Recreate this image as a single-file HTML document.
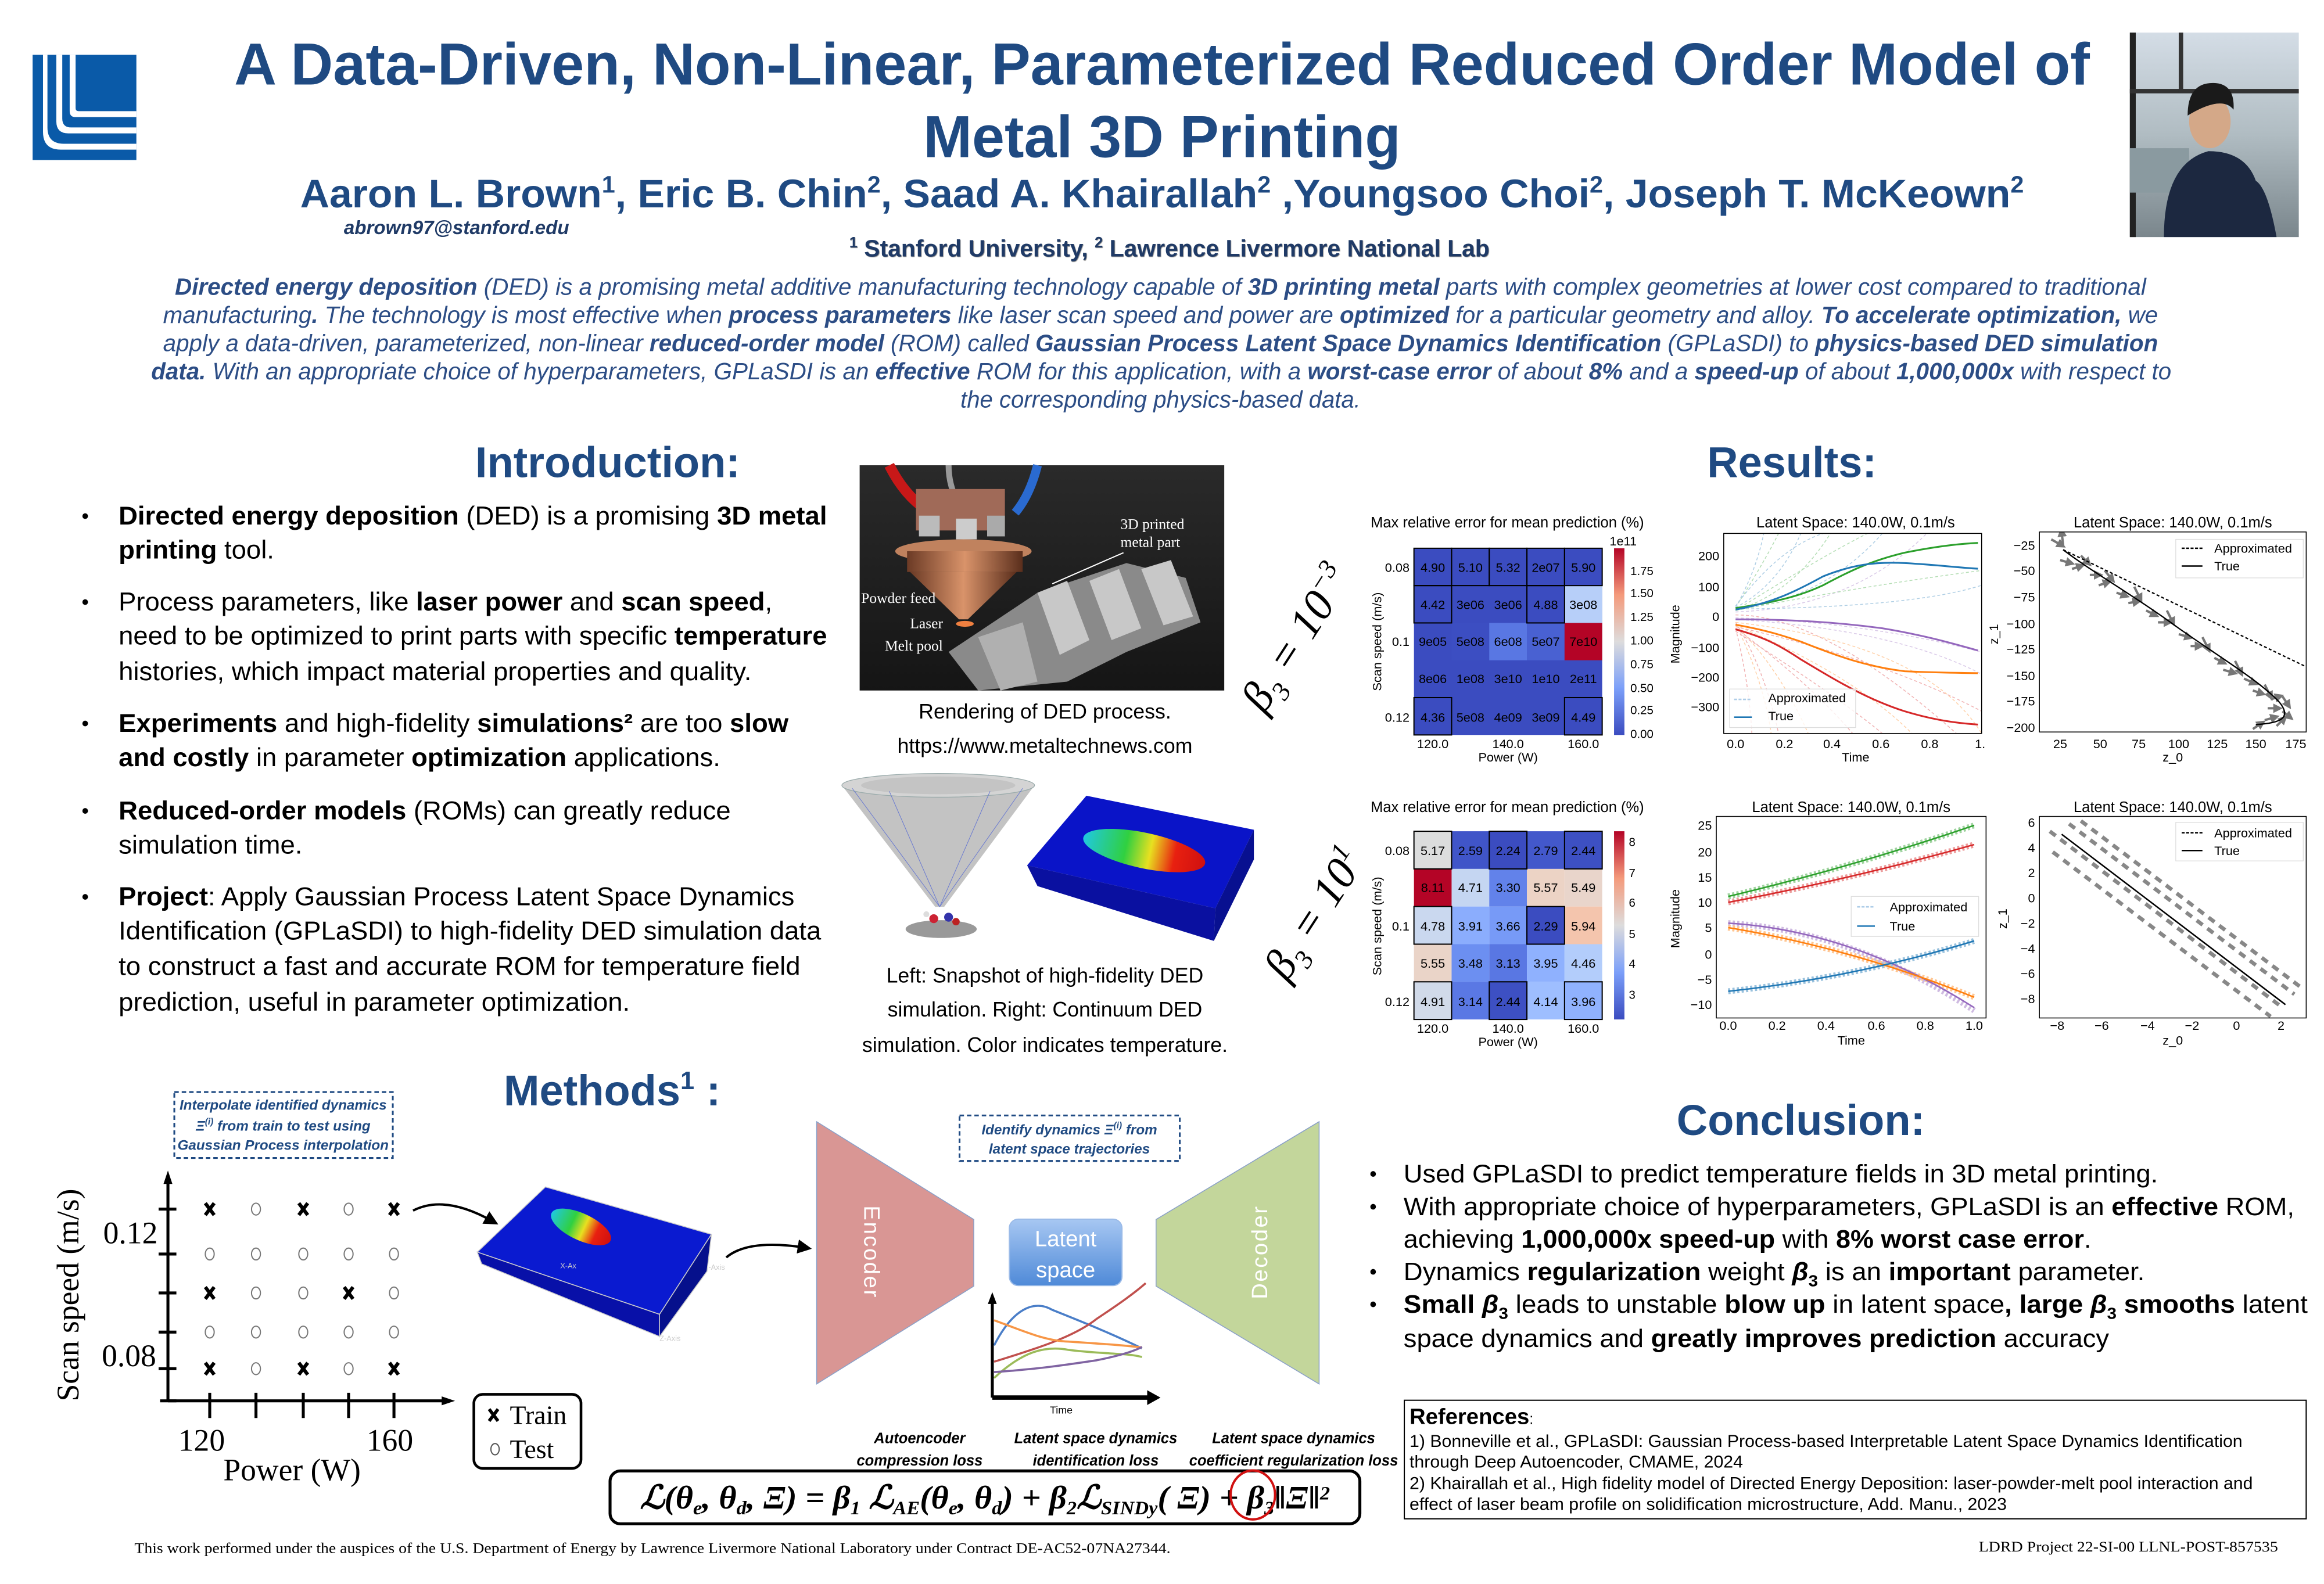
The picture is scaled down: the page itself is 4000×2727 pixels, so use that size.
<!DOCTYPE html>
<html><head><meta charset="utf-8"><style>
html,body{margin:0;padding:0;background:#fff;}
svg{display:block;}
</style></head><body>
<svg xmlns="http://www.w3.org/2000/svg" width="4000" height="2727" viewBox="0 0 1568 1069" font-family="'Liberation Sans', sans-serif">
<defs>
<linearGradient id="cw" x1="0" y1="1" x2="0" y2="0">
<stop offset="0" stop-color="#3b4cc0"/><stop offset="0.25" stop-color="#7b9ff9"/><stop offset="0.5" stop-color="#dddcdc"/><stop offset="0.75" stop-color="#f49a7b"/><stop offset="1" stop-color="#b40426"/></linearGradient>
<linearGradient id="hot" x1="0" y1="0" x2="1" y2="0">
<stop offset="0" stop-color="#20c8e0"/><stop offset="0.35" stop-color="#30d040"/><stop offset="0.55" stop-color="#e8e020"/><stop offset="0.75" stop-color="#e82010"/><stop offset="1" stop-color="#d01010"/></linearGradient>
<linearGradient id="lat" x1="0" y1="0" x2="0" y2="1"><stop offset="0" stop-color="#a7c7f2"/><stop offset="1" stop-color="#4f8ad8"/></linearGradient>
<linearGradient id="dark" x1="0" y1="0" x2="0" y2="1"><stop offset="0" stop-color="#2a2a2a"/><stop offset="1" stop-color="#151515"/></linearGradient>
<linearGradient id="copper" x1="0" y1="0" x2="1" y2="0"><stop offset="0" stop-color="#6b3a25"/><stop offset="0.5" stop-color="#d9936a"/><stop offset="1" stop-color="#5a2e1c"/></linearGradient>
<linearGradient id="photo" x1="0" y1="0" x2="0" y2="1"><stop offset="0" stop-color="#d4dde6"/><stop offset="0.5" stop-color="#b0bcc2"/><stop offset="1" stop-color="#7a868c"/></linearGradient>
<marker id="ah" markerWidth="4" markerHeight="4" refX="2" refY="2" orient="auto"><path d="M0,0 L4,2 L0,4z" fill="#777"/></marker>
<marker id="ahk" markerWidth="6" markerHeight="6" refX="3" refY="3" orient="auto"><path d="M0,0 L6,3 L0,6z" fill="#000"/></marker>
<clipPath id="c1"><rect x="1163" y="360" width="174" height="135"/></clipPath>
<clipPath id="c3"><rect x="1376" y="359" width="180" height="135"/></clipPath>
</defs>

<!-- LOGO -->
<rect x="22" y="37" width="70" height="71" fill="#0a5aa8"/>
<path d="M24,37 h5 v52 q0,12 12,12 h51 v-4 h-49 q-11,0 -11,-11 v-49z" fill="#fff"/>
<path d="M33,37 h5 v45 q0,8 8,8 h46 v-4 h-44 q-6,0 -6,-6 v-43z" fill="#fff"/>
<path d="M42,37 h5 v38 q0,4 4,4 h41 v-4 h-39 q-2,0 -2,-2 v-36z" fill="#fff"/>

<!-- PHOTO -->
<rect x="1437" y="22" width="114" height="138" fill="url(#photo)"/>
<rect x="1437" y="22" width="4" height="138" fill="#222"/>
<rect x="1437" y="60" width="114" height="3" fill="#333"/>
<rect x="1470" y="22" width="3" height="40" fill="#333"/>
<rect x="1437" y="100" width="40" height="30" fill="#8a9aa0"/>
<path d="M1460,160 q0,-50 30,-58 q25,0 32,20 q8,5 14,38z" fill="#1c2840"/>
<ellipse cx="1491" cy="82" rx="14" ry="18" fill="#d4a888"/>
<path d="M1476,78 q0,-22 17,-22 q15,0 14,18 q-8,-10 -31,4z" fill="#1a1a1a"/>

<!-- TITLE -->
<g fill="#1f4a82" font-weight="bold">
<text x="784" y="57" font-size="40" text-anchor="middle" textLength="1252" lengthAdjust="spacingAndGlyphs">A Data-Driven, Non-Linear, Parameterized Reduced Order Model of</text>
<text x="784" y="106" font-size="40" text-anchor="middle" textLength="322" lengthAdjust="spacingAndGlyphs">Metal 3D Printing</text>
<text x="784" y="140" font-size="27" text-anchor="middle" textLength="1163" lengthAdjust="spacingAndGlyphs">Aaron L. Brown<tspan font-size="16" dy="-10">1</tspan><tspan dy="10">, Eric B. Chin</tspan><tspan font-size="16" dy="-10">2</tspan><tspan dy="10">, Saad A. Khairallah</tspan><tspan font-size="16" dy="-10">2</tspan><tspan dy="10"> ,Youngsoo Choi</tspan><tspan font-size="16" dy="-10">2</tspan><tspan dy="10">, Joseph T. McKeown</tspan><tspan font-size="16" dy="-10">2</tspan></text>
</g>
<text x="232" y="158" font-size="13" font-style="italic" font-weight="bold" fill="#1f3a66" textLength="152" lengthAdjust="spacingAndGlyphs">abrown97@stanford.edu</text>
<text x="789" y="173" font-size="16" font-weight="bold" fill="#1f3a66" text-anchor="middle" textLength="432" lengthAdjust="spacingAndGlyphs" style="text-shadow:1px 1px 1px #888"><tspan font-size="10" dy="-6">1</tspan><tspan dy="6"> Stanford University, </tspan><tspan font-size="10" dy="-6">2</tspan><tspan dy="6"> Lawrence Livermore National Lab</tspan></text>

<!-- ABSTRACT -->
<g font-size="16" font-style="italic" fill="#2c4d85">
<text x="118" y="199" textLength="1330" lengthAdjust="spacingAndGlyphs"><tspan font-weight="bold">Directed energy deposition</tspan> (DED) is a promising metal additive manufacturing technology capable of <tspan font-weight="bold">3D printing metal</tspan> parts with complex geometries at lower cost compared to traditional</text>
<text x="110" y="218" textLength="1346" lengthAdjust="spacingAndGlyphs">manufacturing<tspan font-weight="bold">.</tspan> The technology is most effective when <tspan font-weight="bold">process parameters</tspan> like laser scan speed and power are <tspan font-weight="bold">optimized</tspan> for a particular geometry and alloy. <tspan font-weight="bold">To accelerate optimization,</tspan> we</text>
<text x="110" y="237" textLength="1346" lengthAdjust="spacingAndGlyphs">apply a data-driven, parameterized, non-linear <tspan font-weight="bold">reduced-order model</tspan> (ROM) called <tspan font-weight="bold">Gaussian Process Latent Space Dynamics Identification</tspan> (GPLaSDI) to <tspan font-weight="bold">physics-based DED simulation</tspan></text>
<text x="102" y="256" textLength="1363" lengthAdjust="spacingAndGlyphs"><tspan font-weight="bold">data.</tspan> With an appropriate choice of hyperparameters, GPLaSDI is an <tspan font-weight="bold">effective</tspan> ROM for this application, with a <tspan font-weight="bold">worst-case error</tspan> of about <tspan font-weight="bold">8%</tspan> and a <tspan font-weight="bold">speed-up</tspan> of about <tspan font-weight="bold">1,000,000x</tspan> with respect to</text>
<text x="648" y="275" textLength="270" lengthAdjust="spacingAndGlyphs">the corresponding physics-based data.</text>
</g>

<!-- SECTION HEADINGS -->
<g fill="#1f4a82" font-weight="bold" font-size="29" text-anchor="middle">
<text x="410" y="322">Introduction:</text>
<text x="1209" y="322">Results:</text>
<text x="1215" y="766">Conclusion:</text>
<text x="413" y="746">Methods<tspan font-size="17" dy="-11">1</tspan><tspan dy="11"> :</tspan></text>
</g>

<!-- INTRO BULLETS -->
<g font-size="17.5" fill="#000">
<g font-size="14"><text x="55" y="353">•</text><text x="55" y="411">•</text><text x="55" y="493">•</text><text x="55" y="552">•</text><text x="55" y="610">•</text></g>
<text x="80" y="354" textLength="478" lengthAdjust="spacingAndGlyphs"><tspan font-weight="bold">Directed energy deposition</tspan> (DED) is a promising <tspan font-weight="bold">3D metal</tspan></text>
<text x="80" y="377" textLength="105" lengthAdjust="spacingAndGlyphs"><tspan font-weight="bold">printing</tspan> tool.</text>
<text x="80" y="412" textLength="441" lengthAdjust="spacingAndGlyphs">Process parameters, like <tspan font-weight="bold">laser power</tspan> and <tspan font-weight="bold">scan speed</tspan>,</text>
<text x="80" y="435" textLength="478" lengthAdjust="spacingAndGlyphs">need to be optimized to print parts with specific <tspan font-weight="bold">temperature</tspan></text>
<text x="80" y="459" textLength="427" lengthAdjust="spacingAndGlyphs">histories, which impact material properties and quality.</text>
<text x="80" y="494" textLength="452" lengthAdjust="spacingAndGlyphs"><tspan font-weight="bold">Experiments</tspan> and high-fidelity <tspan font-weight="bold">simulations²</tspan> are too <tspan font-weight="bold">slow</tspan></text>
<text x="80" y="517" textLength="406" lengthAdjust="spacingAndGlyphs"><tspan font-weight="bold">and costly</tspan> in parameter <tspan font-weight="bold">optimization</tspan> applications.</text>
<text x="80" y="553" textLength="413" lengthAdjust="spacingAndGlyphs"><tspan font-weight="bold">Reduced-order models</tspan> (ROMs) can greatly reduce</text>
<text x="80" y="576" textLength="124" lengthAdjust="spacingAndGlyphs">simulation time.</text>
<text x="80" y="611" textLength="456" lengthAdjust="spacingAndGlyphs"><tspan font-weight="bold">Project</tspan>: Apply Gaussian Process Latent Space Dynamics</text>
<text x="80" y="634" textLength="474" lengthAdjust="spacingAndGlyphs">Identification (GPLaSDI) to high-fidelity DED simulation data</text>
<text x="80" y="658" textLength="460" lengthAdjust="spacingAndGlyphs">to construct a fast and accurate ROM for temperature field</text>
<text x="80" y="682" textLength="345" lengthAdjust="spacingAndGlyphs">prediction, useful in parameter optimization.</text>
</g>

<!-- DED RENDER IMAGE -->
<rect x="580" y="314" width="246" height="152" fill="url(#dark)"/>
<path d="M600,314 q10,20 25,30" stroke="#c81818" stroke-width="7" fill="none"/>
<path d="M700,314 q-5,20 -15,32" stroke="#2a6ad0" stroke-width="6" fill="none"/>
<path d="M640,314 q0,15 8,28" stroke="#999" stroke-width="4" fill="none"/>
<rect x="618" y="330" width="60" height="28" fill="#a06a58"/>
<rect x="620" y="348" width="14" height="14" fill="#bbb"/><rect x="645" y="350" width="14" height="14" fill="#ccc"/><rect x="666" y="348" width="12" height="14" fill="#aaa"/>
<ellipse cx="650" cy="372" rx="46" ry="8" fill="#c0825e"/>
<rect x="612" y="372" width="78" height="14" fill="url(#copper)"/>
<path d="M614,386 L686,386 L653,418 L647,418z" fill="url(#copper)"/>
<path d="M640,440 L700,400 L760,380 L800,390 L810,420 L760,440 L720,460 L660,466z" fill="#8a8a8a"/>
<path d="M700,400 l20,-8 l15,40 l-20,10z M735,392 l20,-8 l15,40 l-20,8z M770,384 l20,-6 l15,38 l-20,6z" fill="#c8c8c8"/>
<path d="M660,430 l30,-10 l10,40 l-25,6z" fill="#b0b0b0"/>
<ellipse cx="651" cy="421" rx="6" ry="2" fill="#f08040"/>
<g fill="#fff" font-family="'Liberation Serif', serif" font-size="10">
<text x="756" y="357">3D printed</text><text x="756" y="369">metal part</text>
<text x="581" y="407">Powder feed</text><text x="614" y="424">Laser</text><text x="597" y="439">Melt pool</text></g>
<path d="M710,394 L758,373" stroke="#fff" stroke-width="0.8"/>
<g fill="#000" font-size="14" text-anchor="middle">
<text x="705" y="485">Rendering of DED process.</text>
<text x="705" y="508">https://www.metaltechnews.com</text>
<text x="705" y="663">Left: Snapshot of high-fidelity DED</text>
<text x="705" y="686">simulation. Right: Continuum DED</text>
<text x="705" y="710">simulation. Color indicates temperature.</text>
</g>
<!-- cone -->
<path d="M568,530 L698,530 L637,612 L631,612z" fill="#b8b8b8" opacity="0.85"/>
<ellipse cx="633" cy="530" rx="65" ry="8" fill="#d4d4d4" stroke="#9aa" stroke-width="0.5"/>
<ellipse cx="633" cy="530" rx="52" ry="6" fill="#c4c4c4"/>
<path d="M575,532 L634,612 M690,532 L634,612 M600,534 L634,612 M668,534 L634,612" stroke="#6a7ad0" stroke-width="0.4"/>
<ellipse cx="635" cy="627" rx="24" ry="6" fill="#999"/>
<circle cx="630" cy="620" r="3" fill="#c23"/><circle cx="640" cy="619" r="3" fill="#33a"/><circle cx="625" cy="617" r="2" fill="#ddd"/><circle cx="645" cy="622" r="2.5" fill="#b22"/>
<!-- continuum block -->
<path d="M733,537 L846,560 L820,613 L693,584z" fill="#0a14c8"/>
<path d="M693,584 L820,613 L819,635 L700,598z" fill="#0a10a0"/>
<path d="M820,613 L846,560 L846,580 L819,635z" fill="#081090"/>
<ellipse cx="772" cy="574" rx="42" ry="12" transform="rotate(12 772 574)" fill="url(#hot)"/>

<!-- BETA LABELS -->
<g font-family="'Liberation Serif', serif" font-style="italic" font-size="30" fill="#000">
<text transform="translate(883,436) rotate(-57)" text-anchor="middle">β<tspan font-size="18" dy="7">3</tspan><tspan dy="-7"> = 10</tspan><tspan font-size="18" dy="-12">−3</tspan></text>
<text transform="translate(895,622) rotate(-57)" text-anchor="middle">β<tspan font-size="18" dy="7">3</tspan><tspan dy="-7"> = 10</tspan><tspan font-size="18" dy="-12">1</tspan></text>
</g>

<!-- HEATMAP 1 -->
<g font-size="9" fill="#000">
<text x="1017" y="356" text-anchor="middle" font-size="10">Max relative error for mean prediction (%)</text>
<rect x="954" y="370" width="127" height="126" fill="#3b4cc0"/>
<rect x="1055.6" y="395.2" width="25.4" height="25.2" fill="#b7cff9"/>
<rect x="979.4" y="420.4" width="25.4" height="25.2" fill="#3c4ec2"/>
<rect x="1004.8" y="420.4" width="25.4" height="25.2" fill="#5977e3"/>
<rect x="1030.2" y="420.4" width="25.4" height="25.2" fill="#4961d2"/>
<rect x="1055.6" y="420.4" width="25.4" height="25.2" fill="#b40426"/>
<g fill="none" stroke="#000" stroke-width="0.8">
<rect x="954" y="370" width="25.4" height="25.2"/><rect x="979.4" y="370" width="25.4" height="25.2"/><rect x="1004.8" y="370" width="25.4" height="25.2"/><rect x="1030.2" y="370" width="25.4" height="25.2"/><rect x="1055.6" y="370" width="25.4" height="25.2"/>
<rect x="954" y="395.2" width="25.4" height="25.2"/><rect x="1030.2" y="395.2" width="25.4" height="25.2"/>
<rect x="954" y="470.8" width="25.4" height="25.2"/><rect x="1055.6" y="470.8" width="25.4" height="25.2"/></g>
<g text-anchor="middle" font-size="8.5">
<text x="966.7" y="386">4.90</text><text x="992.1" y="386">5.10</text><text x="1017.5" y="386">5.32</text><text x="1042.9" y="386">2e07</text><text x="1068.3" y="386">5.90</text>
<text x="966.7" y="411">4.42</text><text x="992.1" y="411">3e06</text><text x="1017.5" y="411">3e06</text><text x="1042.9" y="411">4.88</text><text x="1068.3" y="411">3e08</text>
<text x="966.7" y="436">9e05</text><text x="992.1" y="436">5e08</text><text x="1017.5" y="436">6e08</text><text x="1042.9" y="436">5e07</text><text x="1068.3" y="436">7e10</text>
<text x="966.7" y="461">8e06</text><text x="992.1" y="461">1e08</text><text x="1017.5" y="461">3e10</text><text x="1042.9" y="461">1e10</text><text x="1068.3" y="461">2e11</text>
<text x="966.7" y="487">4.36</text><text x="992.1" y="487">5e08</text><text x="1017.5" y="487">4e09</text><text x="1042.9" y="487">3e09</text><text x="1068.3" y="487">4.49</text>
<text x="966.7" y="505">120.0</text><text x="1017.5" y="505">140.0</text><text x="1068.3" y="505">160.0</text>
<text x="1017.5" y="514">Power (W)</text></g>
<g text-anchor="end" font-size="8.5"><text x="951" y="386">0.08</text><text x="951" y="436">0.1</text><text x="951" y="487">0.12</text></g>
<text transform="translate(932,433) rotate(-90)" text-anchor="middle" font-size="8.5">Scan speed (m/s)</text>
<rect x="1089" y="370" width="7" height="126" fill="url(#cw)"/>
<text x="1086" y="368" font-size="8.5">1e11</text>
<g font-size="8"><text x="1100" y="388">1.75</text><text x="1100" y="403">1.50</text><text x="1100" y="419">1.25</text><text x="1100" y="435">1.00</text><text x="1100" y="451">0.75</text><text x="1100" y="467">0.50</text><text x="1100" y="482">0.25</text><text x="1100" y="498">0.00</text></g>
</g>

<!-- HEATMAP 2 -->
<g font-size="9" fill="#000">
<text x="1017" y="548" text-anchor="middle" font-size="10">Max relative error for mean prediction (%)</text>
<g>
<rect x="954" y="561" width="25.4" height="25.4" fill="#dcdddd"/><rect x="979.4" y="561" width="25.4" height="25.4" fill="#4055c8"/><rect x="1004.8" y="561" width="25.4" height="25.4" fill="#3b4cc0"/><rect x="1030.2" y="561" width="25.4" height="25.4" fill="#4358cb"/><rect x="1055.6" y="561" width="25.4" height="25.4" fill="#3d50c3"/>
<rect x="954" y="586.4" width="25.4" height="25.4" fill="#b40426"/><rect x="979.4" y="586.4" width="25.4" height="25.4" fill="#c5d6f2"/><rect x="1004.8" y="586.4" width="25.4" height="25.4" fill="#6282ea"/><rect x="1030.2" y="586.4" width="25.4" height="25.4" fill="#ecd3c5"/><rect x="1055.6" y="586.4" width="25.4" height="25.4" fill="#e9d5cb"/>
<rect x="954" y="611.8" width="25.4" height="25.4" fill="#cad8ef"/><rect x="979.4" y="611.8" width="25.4" height="25.4" fill="#8badfd"/><rect x="1004.8" y="611.8" width="25.4" height="25.4" fill="#779af7"/><rect x="1030.2" y="611.8" width="25.4" height="25.4" fill="#3b4cc0"/><rect x="1055.6" y="611.8" width="25.4" height="25.4" fill="#f4c5ad"/>
<rect x="954" y="637.2" width="25.4" height="25.4" fill="#ead4c8"/><rect x="979.4" y="637.2" width="25.4" height="25.4" fill="#6c8ff1"/><rect x="1004.8" y="637.2" width="25.4" height="25.4" fill="#5977e3"/><rect x="1030.2" y="637.2" width="25.4" height="25.4" fill="#8fb1fe"/><rect x="1055.6" y="637.2" width="25.4" height="25.4" fill="#b3cdfb"/>
<rect x="954" y="662.6" width="25.4" height="25.4" fill="#d1dae9"/><rect x="979.4" y="662.6" width="25.4" height="25.4" fill="#5a78e4"/><rect x="1004.8" y="662.6" width="25.4" height="25.4" fill="#3d50c3"/><rect x="1030.2" y="662.6" width="25.4" height="25.4" fill="#9ebeff"/><rect x="1055.6" y="662.6" width="25.4" height="25.4" fill="#90b2fe"/>
</g>
<g fill="none" stroke="#000" stroke-width="0.8">
<rect x="954" y="561" width="25.4" height="25.4"/><rect x="1004.8" y="561" width="25.4" height="25.4"/><rect x="1055.6" y="561" width="25.4" height="25.4"/>
<rect x="954" y="611.8" width="25.4" height="25.4"/><rect x="1030.2" y="611.8" width="25.4" height="25.4"/>
<rect x="954" y="662.6" width="25.4" height="25.4"/><rect x="1004.8" y="662.6" width="25.4" height="25.4"/><rect x="1055.6" y="662.6" width="25.4" height="25.4"/></g>
<g text-anchor="middle" font-size="8.5">
<text x="966.7" y="577">5.17</text><text x="992.1" y="577">2.59</text><text x="1017.5" y="577">2.24</text><text x="1042.9" y="577">2.79</text><text x="1068.3" y="577">2.44</text>
<text x="966.7" y="602">8.11</text><text x="992.1" y="602">4.71</text><text x="1017.5" y="602">3.30</text><text x="1042.9" y="602">5.57</text><text x="1068.3" y="602">5.49</text>
<text x="966.7" y="628">4.78</text><text x="992.1" y="628">3.91</text><text x="1017.5" y="628">3.66</text><text x="1042.9" y="628">2.29</text><text x="1068.3" y="628">5.94</text>
<text x="966.7" y="653">5.55</text><text x="992.1" y="653">3.48</text><text x="1017.5" y="653">3.13</text><text x="1042.9" y="653">3.95</text><text x="1068.3" y="653">4.46</text>
<text x="966.7" y="679">4.91</text><text x="992.1" y="679">3.14</text><text x="1017.5" y="679">2.44</text><text x="1042.9" y="679">4.14</text><text x="1068.3" y="679">3.96</text>
<text x="966.7" y="697">120.0</text><text x="1017.5" y="697">140.0</text><text x="1068.3" y="697">160.0</text>
<text x="1017.5" y="706">Power (W)</text></g>
<g text-anchor="end" font-size="8.5"><text x="951" y="577">0.08</text><text x="951" y="628">0.1</text><text x="951" y="679">0.12</text></g>
<text transform="translate(932,625) rotate(-90)" text-anchor="middle" font-size="8.5">Scan speed (m/s)</text>
<rect x="1089" y="561" width="7" height="127" fill="url(#cw)"/>
<g font-size="8"><text x="1099" y="571">8</text><text x="1099" y="592">7</text><text x="1099" y="612">6</text><text x="1099" y="633">5</text><text x="1099" y="653">4</text><text x="1099" y="674">3</text></g>
</g>

<!-- PLOT 1 -->
<g font-size="8.5" fill="#000">
<text x="1252" y="356" text-anchor="middle" font-size="10">Latent Space: 140.0W, 0.1m/s</text>
<g clip-path="url(#c1)" fill="none" stroke-width="0.6" stroke-dasharray="2 1.5" opacity="0.35">
<path d="M1171,410 Q1190,380 1200,360" stroke="#2ca02c"/><path d="M1171,410 Q1200,395 1215,360" stroke="#1f77b4"/>
<path d="M1171,412 Q1210,400 1235,360" stroke="#2ca02c"/><path d="M1171,411 Q1230,405 1270,360" stroke="#1f77b4"/>
<path d="M1171,413 Q1250,410 1300,360" stroke="#9467bd"/><path d="M1171,410 Q1185,385 1190,360" stroke="#1f77b4"/>
<path d="M1171,412 Q1260,395 1337,385" stroke="#2ca02c"/><path d="M1171,417 Q1260,420 1337,440" stroke="#9467bd"/>
<path d="M1171,420 Q1190,450 1200,495" stroke="#d62728"/><path d="M1171,422 Q1200,450 1220,495" stroke="#ff7f0e"/>
<path d="M1171,424 Q1220,460 1250,495" stroke="#d62728"/><path d="M1171,422 Q1250,455 1290,495" stroke="#ff7f0e"/>
<path d="M1171,423 Q1270,445 1337,480" stroke="#d62728"/><path d="M1171,421 Q1190,460 1195,495" stroke="#ff7f0e"/>
<path d="M1171,418 Q1280,425 1337,455" stroke="#9467bd"/><path d="M1171,415 Q1230,415 1320,495" stroke="#d62728"/>
<path d="M1171,412 Q1230,375 1260,360" stroke="#2ca02c"/><path d="M1171,420 Q1300,435 1337,495" stroke="#ff7f0e"/>
<path d="M1171,411 Q1290,410 1337,395" stroke="#1f77b4"/><path d="M1171,424 Q1180,460 1182,495" stroke="#d62728"/>
<path d="M1171,409 Q1200,370 1230,360" stroke="#1f77b4"/><path d="M1171,426 Q1240,470 1270,495" stroke="#d62728"/>
</g>
<g fill="none" stroke-width="1.2">
<path d="M1171,410.4 C1200,406 1215,402 1230,395 C1245,387 1260,379 1285,373 C1305,369 1320,367 1334.5,366.4" stroke="#2ca02c"/>
<path d="M1171,411.4 C1195,407 1210,400 1230,389 C1250,381 1265,379 1285,380 C1305,381 1320,383 1334.5,383.8" stroke="#1f77b4"/>
<path d="M1171,418 C1210,418 1240,420 1270,424 C1300,429 1320,435 1334.5,439" stroke="#9467bd"/>
<path d="M1171,421.6 C1190,425 1200,428 1215,433 C1240,443 1260,450 1285,453 C1305,454 1320,454 1334.5,454.3" stroke="#ff7f0e"/>
<path d="M1171,424.7 C1190,430 1200,435 1215,445 C1240,460 1260,472 1285,480 C1305,486 1320,488 1334.5,489" stroke="#d62728"/>
</g>
<rect x="1163" y="360" width="174" height="135" fill="none" stroke="#000" stroke-width="0.6"/>
<rect x="1167" y="465" width="85" height="26" fill="#fff" fill-opacity="0.8" stroke="#ddd" stroke-width="0.5"/>
<path d="M1170,472 h12" stroke="#aecde8" stroke-dasharray="2 1"/><path d="M1170,484 h12" stroke="#1f77b4"/>
<text x="1193" y="474">Approximated</text><text x="1193" y="486">True</text>
<g text-anchor="end"><text x="1160" y="378">200</text><text x="1160" y="399">100</text><text x="1160" y="419">0</text><text x="1160" y="440">−100</text><text x="1160" y="460">−200</text><text x="1160" y="480">−300</text></g>
<g text-anchor="middle"><text x="1171" y="505">0.0</text><text x="1204" y="505">0.2</text><text x="1236" y="505">0.4</text><text x="1269" y="505">0.6</text><text x="1302" y="505">0.8</text><text x="1336" y="505">1.</text>
<text x="1252" y="514">Time</text></g>
<text transform="translate(1133,428) rotate(-90)" text-anchor="middle">Magnitude</text>
</g>

<!-- PLOT 3 -->
<g font-size="8.5" fill="#000">
<text x="1466" y="356" text-anchor="middle" font-size="10">Latent Space: 140.0W, 0.1m/s</text>
<g clip-path="url(#c3)" stroke="#777" stroke-width="1.6" marker-end="url(#ah)">
<path d="M1384,364 l7,4"/><path d="M1392,368 l-1,-9"/><path d="M1390,378 l7,2"/><path d="M1398,384 l6,-2"/><path d="M1404,375 l5,5"/>
<path d="M1410,388 l6,0"/><path d="M1416,395 l6,-2"/><path d="M1420,385 l5,6"/><path d="M1428,400 l6,2"/><path d="M1436,407 l6,-1"/>
<path d="M1440,396 l4,8"/><path d="M1448,412 l6,3"/><path d="M1456,420 l7,0"/><path d="M1462,412 l4,8"/><path d="M1470,428 l7,2"/>
<path d="M1478,436 l6,0"/><path d="M1486,430 l4,8"/><path d="M1494,444 l6,3"/><path d="M1500,452 l7,2"/><path d="M1508,446 l4,8"/>
<path d="M1514,458 l7,3"/><path d="M1520,466 l6,2"/><path d="M1528,462 l4,8"/><path d="M1532,472 l6,-2"/><path d="M1540,470 l4,6"/>
<path d="M1530,478 l7,0"/><path d="M1540,480 l5,4"/><path d="M1528,486 l7,-2"/><path d="M1536,490 l5,-5"/><path d="M1520,492 l6,-4"/>
</g>
<path d="M1392,371 L1556,450" stroke="#000" stroke-width="0.9" stroke-dasharray="2 1.5" fill="none"/>
<path d="M1392,371 C1410,385 1440,402 1470,424 C1500,445 1525,460 1538,474 C1546,484 1540,488 1522,489" stroke="#000" stroke-width="0.9" fill="none"/>
<rect x="1376" y="359" width="180" height="135" fill="none" stroke="#000" stroke-width="0.6"/>
<rect x="1468" y="364" width="86" height="26" fill="#fff" stroke="#ddd" stroke-width="0.5"/>
<path d="M1472,370 h14" stroke="#000" stroke-dasharray="2 1"/><path d="M1472,382 h14" stroke="#000"/>
<text x="1494" y="373">Approximated</text><text x="1494" y="385">True</text>
<g text-anchor="end"><text x="1373" y="371">−25</text><text x="1373" y="388">−50</text><text x="1373" y="406">−75</text><text x="1373" y="424">−100</text><text x="1373" y="441">−125</text><text x="1373" y="459">−150</text><text x="1373" y="476">−175</text><text x="1373" y="494">−200</text></g>
<g text-anchor="middle"><text x="1390" y="505">25</text><text x="1417" y="505">50</text><text x="1443" y="505">75</text><text x="1470" y="505">100</text><text x="1496" y="505">125</text><text x="1522" y="505">150</text><text x="1549" y="505">175</text>
<text x="1466" y="514">z_0</text></g>
<text transform="translate(1348,428) rotate(-90)" text-anchor="middle">z_1</text>
</g>

<!-- PLOT 2 -->
<g font-size="8.5" fill="#000">
<text x="1249" y="548" text-anchor="middle" font-size="10">Latent Space: 140.0W, 0.1m/s</text>
<g fill="none" stroke-width="4" stroke-dasharray="1.5 1.5" opacity="0.45">
<path d="M1166,605 Q1250,585 1332,557" stroke="#2ca02c"/>
<path d="M1166,609 Q1250,593 1332,570" stroke="#d62728"/>
<path d="M1166,623 Q1250,628 1332,682" stroke="#9467bd"/>
<path d="M1166,626 Q1250,640 1332,673" stroke="#ff7f0e"/>
<path d="M1166,669 Q1250,660 1332,635" stroke="#1f77b4"/>
</g>
<g fill="none" stroke-width="1">
<path d="M1166,605 Q1250,585 1332,557" stroke="#2ca02c"/>
<path d="M1166,609 Q1250,593 1332,570" stroke="#d62728"/>
<path d="M1166,623 Q1250,628 1332,680" stroke="#9467bd"/>
<path d="M1166,626 Q1250,640 1332,673" stroke="#ff7f0e"/>
<path d="M1166,669 Q1250,660 1332,635" stroke="#1f77b4"/>
</g>
<rect x="1158" y="551" width="182" height="136" fill="none" stroke="#000" stroke-width="0.6"/>
<rect x="1249" y="605" width="86" height="27" fill="#fff" stroke="#ddd" stroke-width="0.5"/>
<path d="M1253,612 h12" stroke="#aecde8" stroke-dasharray="2 1"/><path d="M1253,625 h12" stroke="#1f77b4"/>
<text x="1275" y="615">Approximated</text><text x="1275" y="628">True</text>
<g text-anchor="end"><text x="1155" y="560">25</text><text x="1155" y="578">20</text><text x="1155" y="595">15</text><text x="1155" y="612">10</text><text x="1155" y="629">5</text><text x="1155" y="647">0</text><text x="1155" y="664">−5</text><text x="1155" y="681">−10</text></g>
<g text-anchor="middle"><text x="1166" y="695">0.0</text><text x="1199" y="695">0.2</text><text x="1232" y="695">0.4</text><text x="1266" y="695">0.6</text><text x="1299" y="695">0.8</text><text x="1332" y="695">1.0</text>
<text x="1249" y="705">Time</text></g>
<text transform="translate(1133,620) rotate(-90)" text-anchor="middle">Magnitude</text>
</g>

<!-- PLOT 4 -->
<g font-size="8.5" fill="#000">
<text x="1466" y="548" text-anchor="middle" font-size="10">Latent Space: 140.0W, 0.1m/s</text>
<g fill="none" stroke="#888" stroke-width="2.6" stroke-dasharray="5 4">
<path d="M1383,561 L1540,680"/><path d="M1396,556 L1548,671"/><path d="M1385,575 L1532,686"/><path d="M1404,554 L1552,666"/>
</g>
<path d="M1391,563 L1542,678" stroke="#000" stroke-width="1"/>
<rect x="1376" y="551" width="180" height="136" fill="none" stroke="#000" stroke-width="0.6"/>
<rect x="1468" y="555" width="86" height="26" fill="#fff" stroke="#ddd" stroke-width="0.5"/>
<path d="M1472,562 h14" stroke="#000" stroke-dasharray="2 1"/><path d="M1472,574 h14" stroke="#000"/>
<text x="1494" y="565">Approximated</text><text x="1494" y="577">True</text>
<g text-anchor="end"><text x="1373" y="558">6</text><text x="1373" y="575">4</text><text x="1373" y="592">2</text><text x="1373" y="609">0</text><text x="1373" y="626">−2</text><text x="1373" y="643">−4</text><text x="1373" y="660">−6</text><text x="1373" y="677">−8</text></g>
<g text-anchor="middle"><text x="1388" y="695">−8</text><text x="1418" y="695">−6</text><text x="1449" y="695">−4</text><text x="1479" y="695">−2</text><text x="1509" y="695">0</text><text x="1539" y="695">2</text>
<text x="1466" y="705">z_0</text></g>
<text transform="translate(1354,620) rotate(-90)" text-anchor="middle">z_1</text>
</g>

<!-- METHODS: SCATTER -->
<rect x="117.6" y="737" width="147.4" height="44.5" fill="none" stroke="#1f4a82" stroke-width="1.2" stroke-dasharray="3 2"/>
<g font-size="9.5" font-style="italic" font-weight="bold" fill="#1f4a82" text-anchor="middle">
<text x="191" y="749">Interpolate identified dynamics</text>
<text x="191" y="763">Ξ<tspan font-size="6" dy="-4">(i)</tspan><tspan dy="4"> from train to test using</tspan></text>
<text x="191" y="776">Gaussian Process interpolation</text></g>
<g stroke="#000" stroke-width="2" fill="none">
<path d="M113.3,945.4 V797"/><path d="M113.3,945.4 H300"/>
<path d="M108,945.4 L119,945.4"/>
<path d="M107,816 h12 M107,846.3 h12 M107,872.6 h12 M107,899 h12 M107,923.7 h12"/>
<path d="M141.5,940 v17 M172.7,940 v17 M204.6,940 v17 M235.2,940 v17 M265.8,940 v17"/>
</g>
<path d="M113.3,790 l-3,9 h6z" fill="#000"/><path d="M307,945.4 l-9,-3 v6z" fill="#000"/>
<g stroke="#000" stroke-width="2.4">
<path d="M138.5,812 l6,8 M144.5,812 l-6,8 M201.6,812 l6,8 M207.6,812 l-6,8 M262.8,812 l6,8 M268.8,812 l-6,8"/>
<path d="M138.5,868.6 l6,8 M144.5,868.6 l-6,8 M232.2,868.6 l6,8 M238.2,868.6 l-6,8"/>
<path d="M138.5,919.7 l6,8 M144.5,919.7 l-6,8 M201.6,919.7 l6,8 M207.6,919.7 l-6,8 M262.8,919.7 l6,8 M268.8,919.7 l-6,8"/>
</g>
<g fill="none" stroke="#777" stroke-width="0.8">
<ellipse cx="172.7" cy="816" rx="3" ry="4"/><ellipse cx="235.2" cy="816" rx="3" ry="4"/>
<ellipse cx="141.5" cy="846.3" rx="3" ry="4"/><ellipse cx="172.7" cy="846.3" rx="3" ry="4"/><ellipse cx="204.6" cy="846.3" rx="3" ry="4"/><ellipse cx="235.2" cy="846.3" rx="3" ry="4"/><ellipse cx="265.8" cy="846.3" rx="3" ry="4"/>
<ellipse cx="172.7" cy="872.6" rx="3" ry="4"/><ellipse cx="204.6" cy="872.6" rx="3" ry="4"/><ellipse cx="265.8" cy="872.6" rx="3" ry="4"/>
<ellipse cx="141.5" cy="899" rx="3" ry="4"/><ellipse cx="172.7" cy="899" rx="3" ry="4"/><ellipse cx="204.6" cy="899" rx="3" ry="4"/><ellipse cx="235.2" cy="899" rx="3" ry="4"/><ellipse cx="265.8" cy="899" rx="3" ry="4"/>
<ellipse cx="172.7" cy="923.7" rx="3" ry="4"/><ellipse cx="235.2" cy="923.7" rx="3" ry="4"/>
</g>
<g font-family="'Liberation Serif', serif" font-size="21" fill="#000">
<text x="88" y="839" text-anchor="middle">0.12</text>
<text x="87" y="922" text-anchor="middle">0.08</text>
<text x="136" y="979" text-anchor="middle">120</text>
<text x="263" y="979" text-anchor="middle">160</text>
<text x="197" y="999" text-anchor="middle">Power (W)</text>
<text transform="translate(53,874) rotate(-90)" text-anchor="middle">Scan speed (m/s)</text>
</g>
<rect x="319.7" y="941" width="72.3" height="50" rx="6" fill="#fff" stroke="#000" stroke-width="1.8"/>
<path d="M330,951 l6,8 M336,951 l-6,8" stroke="#000" stroke-width="2.2"/>
<ellipse cx="334" cy="978" rx="2.8" ry="3.8" fill="none" stroke="#555" stroke-width="0.8"/>
<g font-family="'Liberation Serif', serif" font-size="18"><text x="344" y="961">Train</text><text x="344" y="984">Test</text></g>

<!-- arrows & block -->
<path d="M278.7,817 Q300,806 332,824" stroke="#000" stroke-width="1.6" fill="none" marker-end="url(#ahk)"/>
<path d="M490,848.6 Q505,836 543,842" stroke="#000" stroke-width="1.6" fill="none" marker-end="url(#ahk)"/>
<path d="M368,801 L480,833 L445,887 L322,845z" fill="#0a1ad0" stroke="#ccc" stroke-width="0.6"/>
<path d="M322,845 L445,887 L445,902 L325,853z" fill="#0810a8" stroke="#ccc" stroke-width="0.6"/>
<path d="M445,887 L480,833 L477,858 L445,902z" fill="#06108c" stroke="#ccc" stroke-width="0.6"/>
<ellipse cx="392" cy="828" rx="22" ry="9" transform="rotate(25 392 828)" fill="url(#hot)"/>
<g font-size="5" fill="#ccc"><text x="478" y="857">-Axis</text><text x="445" y="905">Z-Axis</text><text x="378" y="856">X-Ax</text></g>

<!-- ENCODER / DECODER -->
<path d="M551,757 L657,823 L657,868 L551,934z" fill="#d99694" stroke="#8aa0c8" stroke-width="0.6"/>
<path d="M890,757 L780,823 L780,868 L890,934z" fill="#c3d69b" stroke="#8aa0c8" stroke-width="0.6"/>
<text transform="translate(583,845) rotate(90)" text-anchor="middle" fill="#fff" font-size="15" letter-spacing="1">Encoder</text>
<text transform="translate(855,845) rotate(-90)" text-anchor="middle" fill="#fff" font-size="15" letter-spacing="1">Decoder</text>
<rect x="681" y="822.8" width="76" height="44.8" rx="6" fill="url(#lat)" stroke="#9bbbe8" stroke-width="0.8"/>
<g fill="#fff" font-size="15" text-anchor="middle"><text x="719" y="841">Latent</text><text x="719" y="862">space</text></g>
<rect x="647.4" y="752.8" width="148.6" height="30.7" fill="none" stroke="#1f4a82" stroke-width="1.2" stroke-dasharray="3 2"/>
<g font-size="9.5" font-style="italic" font-weight="bold" fill="#1f4a82" text-anchor="middle">
<text x="721.5" y="765.5">Identify dynamics Ξ<tspan font-size="6" dy="-4">(i)</tspan><tspan dy="4"> from</tspan></text>
<text x="721.5" y="778.5">latent space trajectories</text></g>
<!-- mini plot -->
<g fill="none" stroke-width="1.4">
<path d="M670.7,908 C685,880 700,878 710,884 C730,892 750,900 770.5,910" stroke="#4a7ec8"/>
<path d="M670.7,919 C700,910 725,902 740,890 C755,880 765,873 773,866" stroke="#c0504d"/>
<path d="M670.7,891 C690,898 705,905 721,905.4 C745,907 760,908 770.5,909.4" stroke="#f79646"/>
<path d="M670.7,930 C690,912 705,908 721,911 C745,914 760,913 770.5,915.8" stroke="#9bbb59"/>
<path d="M670.7,926 C700,924 720,921 740,918 C755,915 765,912 770.5,909" stroke="#8064a2"/>
</g>
<path d="M669.5,943.2 V878" stroke="#000" stroke-width="2"/><path d="M669.5,872 l-3,8 h6z" fill="#000"/>
<path d="M669.5,943.2 H775" stroke="#000" stroke-width="3"/><path d="M783,943.2 l-9,-5 v10z" fill="#000"/>
<text x="716" y="954" font-size="7" text-anchor="middle">Time</text>

<!-- loss labels -->
<g font-size="10" font-style="italic" font-weight="bold" text-anchor="middle" fill="#000">
<text x="620.5" y="974">Autoencoder</text><text x="620.5" y="989">compression loss</text>
<text x="739.3" y="974">Latent space dynamics</text><text x="739.3" y="989">identification loss</text>
<text x="872.8" y="974">Latent space dynamics</text><text x="872.8" y="989">coefficient regularization loss</text>
</g>
<rect x="411.6" y="992.7" width="505.9" height="35.7" rx="7" fill="#fff" stroke="#000" stroke-width="2"/>
<text x="431.8" y="1018" font-family="'Liberation Serif', serif" font-size="22" font-style="italic" font-weight="bold" textLength="465.5" lengthAdjust="spacingAndGlyphs">ℒ(θ<tspan font-size="13" dy="4">e</tspan><tspan dy="-4">, θ</tspan><tspan font-size="13" dy="4">d</tspan><tspan dy="-4">, Ξ) = β</tspan><tspan font-size="13" dy="4">1</tspan><tspan dy="-4"> ℒ</tspan><tspan font-size="13" dy="4">AE</tspan><tspan dy="-4">(θ</tspan><tspan font-size="13" dy="4">e</tspan><tspan dy="-4">, θ</tspan><tspan font-size="13" dy="4">d</tspan><tspan dy="-4">) + β</tspan><tspan font-size="13" dy="4">2</tspan><tspan dy="-4">ℒ</tspan><tspan font-size="13" dy="4">SINDy</tspan><tspan dy="-4">( Ξ) + β</tspan><tspan font-size="13" dy="4">3</tspan><tspan dy="-4">‖Ξ‖</tspan><tspan font-size="13" dy="-6">2</tspan></text>
<ellipse cx="845.3" cy="1008.9" rx="15" ry="16.5" fill="none" stroke="#d01010" stroke-width="1.6"/>

<!-- CONCLUSION -->
<g font-size="17" fill="#000">
<g font-size="14"><text x="924" y="797">•</text><text x="924" y="819">•</text><text x="924" y="863">•</text><text x="924" y="885">•</text></g>
<text x="947" y="798" textLength="509" lengthAdjust="spacingAndGlyphs">Used GPLaSDI to predict temperature fields in 3D metal printing.</text>
<text x="947" y="820" textLength="601" lengthAdjust="spacingAndGlyphs">With appropriate choice of hyperparameters, GPLaSDI is an <tspan font-weight="bold">effective</tspan> ROM,</text>
<text x="947" y="842" textLength="464" lengthAdjust="spacingAndGlyphs">achieving <tspan font-weight="bold">1,000,000x speed-up</tspan> with <tspan font-weight="bold">8% worst case error</tspan>.</text>
<text x="947" y="864" textLength="500" lengthAdjust="spacingAndGlyphs">Dynamics <tspan font-weight="bold">regularization</tspan> weight <tspan font-weight="bold" font-style="italic">β</tspan><tspan font-weight="bold" font-size="11" dy="4">3</tspan><tspan dy="-4"> is an </tspan><tspan font-weight="bold">important</tspan> parameter.</text>
<text x="947" y="886" textLength="610" lengthAdjust="spacingAndGlyphs"><tspan font-weight="bold">Small </tspan><tspan font-weight="bold" font-style="italic">β</tspan><tspan font-weight="bold" font-size="11" dy="4">3</tspan><tspan dy="-4"> leads to unstable </tspan><tspan font-weight="bold">blow up</tspan> in latent space<tspan font-weight="bold">, large </tspan><tspan font-weight="bold" font-style="italic">β</tspan><tspan font-weight="bold" font-size="11" dy="4">3</tspan><tspan dy="-4" font-weight="bold"> smooths</tspan> latent</text>
<text x="947" y="909" textLength="476" lengthAdjust="spacingAndGlyphs">space dynamics and <tspan font-weight="bold">greatly improves prediction</tspan> accuracy</text>
</g>

<!-- REFERENCES -->
<rect x="947.5" y="945" width="608.5" height="80" fill="#fff" stroke="#000" stroke-width="0.8"/>
<text x="951" y="961" font-size="15" font-weight="bold">References<tspan font-weight="normal" font-size="10">:</tspan></text>
<g font-size="11.5">
<text x="951" y="976.5" textLength="562" lengthAdjust="spacingAndGlyphs">1) Bonneville et al., GPLaSDI: Gaussian Process-based Interpretable Latent Space Dynamics Identification</text>
<text x="951" y="990.5" textLength="225" lengthAdjust="spacingAndGlyphs">through Deep Autoencoder, CMAME, 2024</text>
<text x="951" y="1005" textLength="569" lengthAdjust="spacingAndGlyphs">2) Khairallah et al., High fidelity model of Directed Energy Deposition: laser-powder-melt pool interaction and</text>
<text x="951" y="1019" textLength="403" lengthAdjust="spacingAndGlyphs">effect of laser beam profile on solidification microstructure, Add. Manu., 2023</text>
</g>

<!-- FOOTER -->
<g font-family="'Liberation Serif', serif" font-size="10" fill="#000">
<text x="90.7" y="1048" textLength="699" lengthAdjust="spacingAndGlyphs">This work performed under the auspices of the U.S. Department of Energy by Lawrence Livermore National Laboratory under Contract DE-AC52-07NA27344.</text>
<text x="1335" y="1047" textLength="202" lengthAdjust="spacingAndGlyphs">LDRD Project 22-SI-00 LLNL-POST-857535</text>
</g>
</svg>
</body></html>
